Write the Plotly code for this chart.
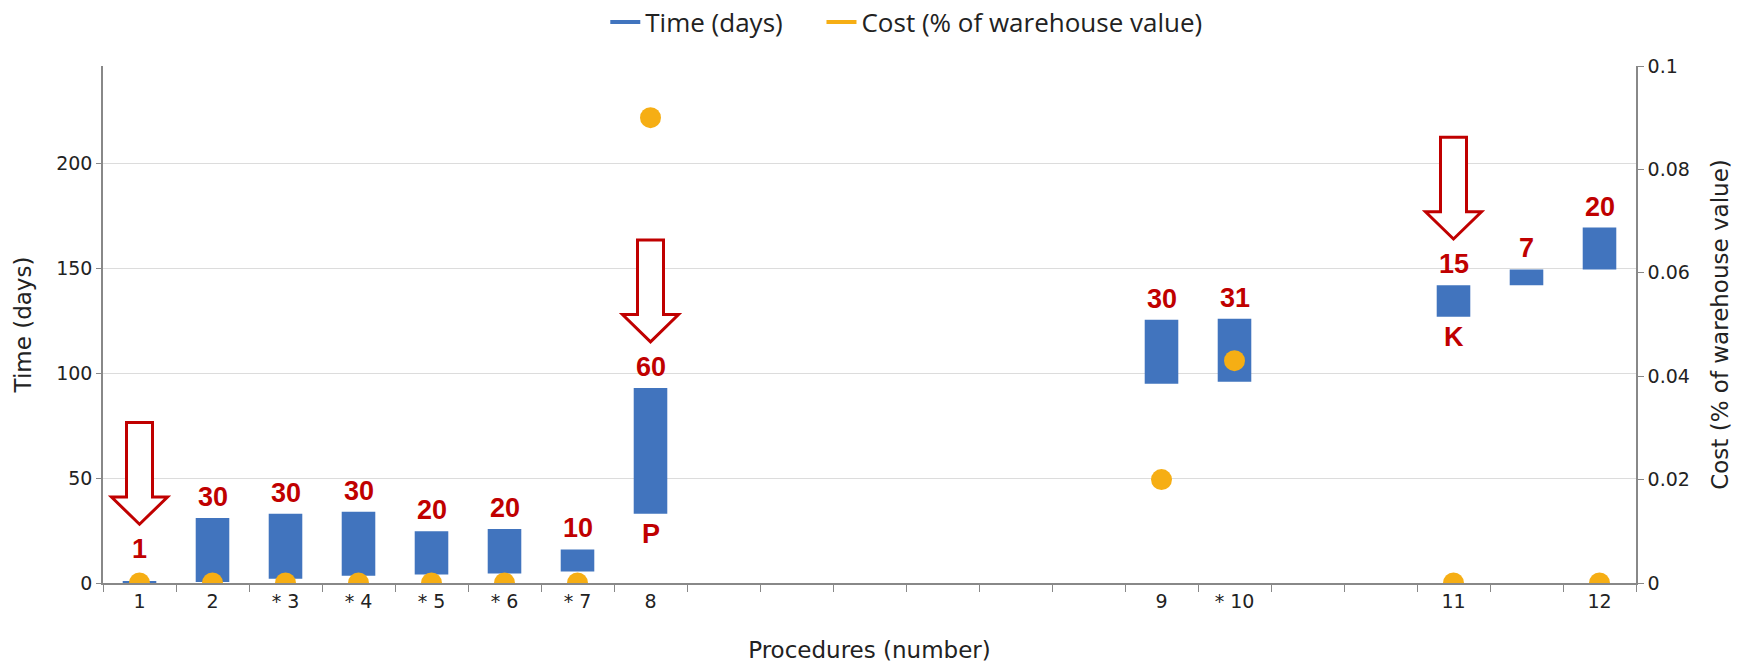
import plotly.graph_objects as go

# ---- data ----
# axis slots (category ids) in order, including empty slots
axis_slots = ["1", "2", "* 3", "* 4", "* 5", "* 6", "* 7", "8",
              "gap a", "gap b", "gap c", "gap d", "gap e", "gap f",
              "9", "* 10", "gap g", "gap h", "11", "11-12", "12"]
slot_labels = ["1", "2", "* 3", "* 4", "* 5", "* 6", "* 7", "8",
               "", "", "", "", "", "",
               "9", "* 10", "", "", "11", "", "12"]

# procedures (floating bars)
procedures = ["1", "2", "* 3", "* 4", "* 5", "* 6", "* 7", "8", "9", "* 10", "11", "11-12", "12"]
start_days = [0, 0.5, 2, 3.5, 4, 4.5, 5.5, 33, 95, 96, 127, 142, 149.5]
end_days = [1, 31, 33, 34, 24.7, 25.7, 16, 93, 125.5, 126, 142, 149.5, 169.5]
duration_labels = ["1", "30", "30", "30", "20", "20", "10", "60", "30", "31", "15", "7", "20"]

# cost dots
cost_procs = ["1", "2", "* 3", "* 4", "* 5", "* 6", "* 7", "8", "9", "* 10", "11", "12"]
cost_values = [0, 0, 0, 0, 0, 0, 0, 0.09, 0.02, 0.043, 0, 0]

# markers: arrows over procedures, letters below procedures
arrow_procs = ["1", "8", "11"]
letter_procs = ["8", "11"]
letter_texts = ["P", "K"]

series_names = ["Time (days)", "Cost (% of warehouse value)"]

BAR_COLOR = "#4174BE"
DOT_COLOR = "#F6AE14"
RED = "#C00000"
LABEL_FONT = "Liberation Sans Narrow, Arial Narrow, Liberation Sans, Arial, sans-serif"
AXIS_FONT = "DejaVu Sans, Verdana, sans-serif"
LEGEND_PAD = "\u00a0" * 5  # extra spacing between legend entries


def slot(p):
    # category serial number on the x axis
    return axis_slots.index(p)


durations = [e - s for s, e in zip(start_days, end_days)]

fig = go.Figure()
fig.add_trace(go.Bar(x=procedures, y=durations, base=start_days,
                     marker=dict(color=BAR_COLOR, line=dict(width=0)),
                     showlegend=False, yaxis="y"))
fig.add_trace(go.Scatter(x=cost_procs, y=cost_values, mode="markers",
                         marker=dict(color=DOT_COLOR, size=21),
                         showlegend=False, yaxis="y2"))
# legend entries (line symbols)
fig.add_trace(go.Scatter(x=[None], y=[None], mode="lines", name=series_names[0] + LEGEND_PAD,
                         line=dict(color=BAR_COLOR, width=4)))
fig.add_trace(go.Scatter(x=[None], y=[None], mode="lines", name=series_names[1],
                         line=dict(color=DOT_COLOR, width=4), yaxis="y2"))

label_font = dict(family=LABEL_FONT, size=27, color=RED, weight="bold")
annotations = []
label_y = {}
for p, top, txt in zip(procedures, end_days, duration_labels):
    y = max(top, 6) + 10
    label_y[p] = y
    annotations.append(dict(x=slot(p), y=y, xref="x", yref="y", text=txt, showarrow=False,
                            yanchor="middle", font=label_font))
for p, txt in zip(letter_procs, letter_texts):
    base = start_days[procedures.index(p)]
    annotations.append(dict(x=slot(p), y=base - 9.5, xref="x", yref="y", text=txt,
                            showarrow=False, yanchor="middle", font=label_font))

shapes = []
for p in arrow_procs:
    tip = label_y[p] + 12
    head = tip + 13
    top = head + 35.5
    path = (f"M -13,{top} L 13,{top} L 13,{head} L 28,{head} L 0,{tip} "
            f"L -28,{head} L -13,{head} Z")
    shapes.append(dict(type="path", xref="x", yref="y", xsizemode="pixel", xanchor=slot(p),
                       path=path, fillcolor="white", line=dict(color=RED, width=3),
                       layer="above"))

fig.update_layout(
    width=1752, height=667,
    margin=dict(l=103, r=116, t=66, b=84),
    plot_bgcolor="white", paper_bgcolor="white",
    bargap=0.54,
    font=dict(family=AXIS_FONT, size=19, color="#222"),
    legend=dict(orientation="h", x=0.524, xanchor="center",
                y=0.967, yref="container", yanchor="middle",
                font=dict(family="Open Sans, sans-serif", size=26, color="#222"),
                itemwidth=30, tracegroupgap=0),
    xaxis=dict(type="category", categoryorder="array", categoryarray=axis_slots,
               tickmode="array", tickvals=axis_slots, ticktext=slot_labels,
               tickson="boundaries", ticks="outside", ticklen=7, tickcolor="#888",
               showline=True, linecolor="#888", linewidth=1.5, showgrid=False,
               range=[-0.5, len(axis_slots) - 0.5], automargin=False,
               title=dict(text="Procedures (number)", standoff=31)),
    yaxis=dict(range=[0, 246.5], tickvals=[0, 50, 100, 150, 200], ticks="outside", ticklen=5,
               tickcolor="#888", showline=True, linecolor="#888", linewidth=1.5,
               showgrid=True, gridcolor="#dcdcdc", gridwidth=1, zeroline=False,
               automargin=False, title=dict(text="Time (days)", standoff=18)),
    yaxis2=dict(range=[0, 0.1], tickvals=[0, 0.02, 0.04, 0.06, 0.08, 0.1],
                overlaying="y", side="right", ticks="outside", ticklen=6, tickcolor="#888",
                showline=True, linecolor="#888", linewidth=1.5, showgrid=False, zeroline=False,
                automargin=False, title=dict(text="Cost (% of warehouse value)", standoff=23)),
    annotations=annotations,
    shapes=shapes,
)

fig.write_html("out.html", config={"displayModeBar": False},
               post_script="document.body.style.margin='0px';")
